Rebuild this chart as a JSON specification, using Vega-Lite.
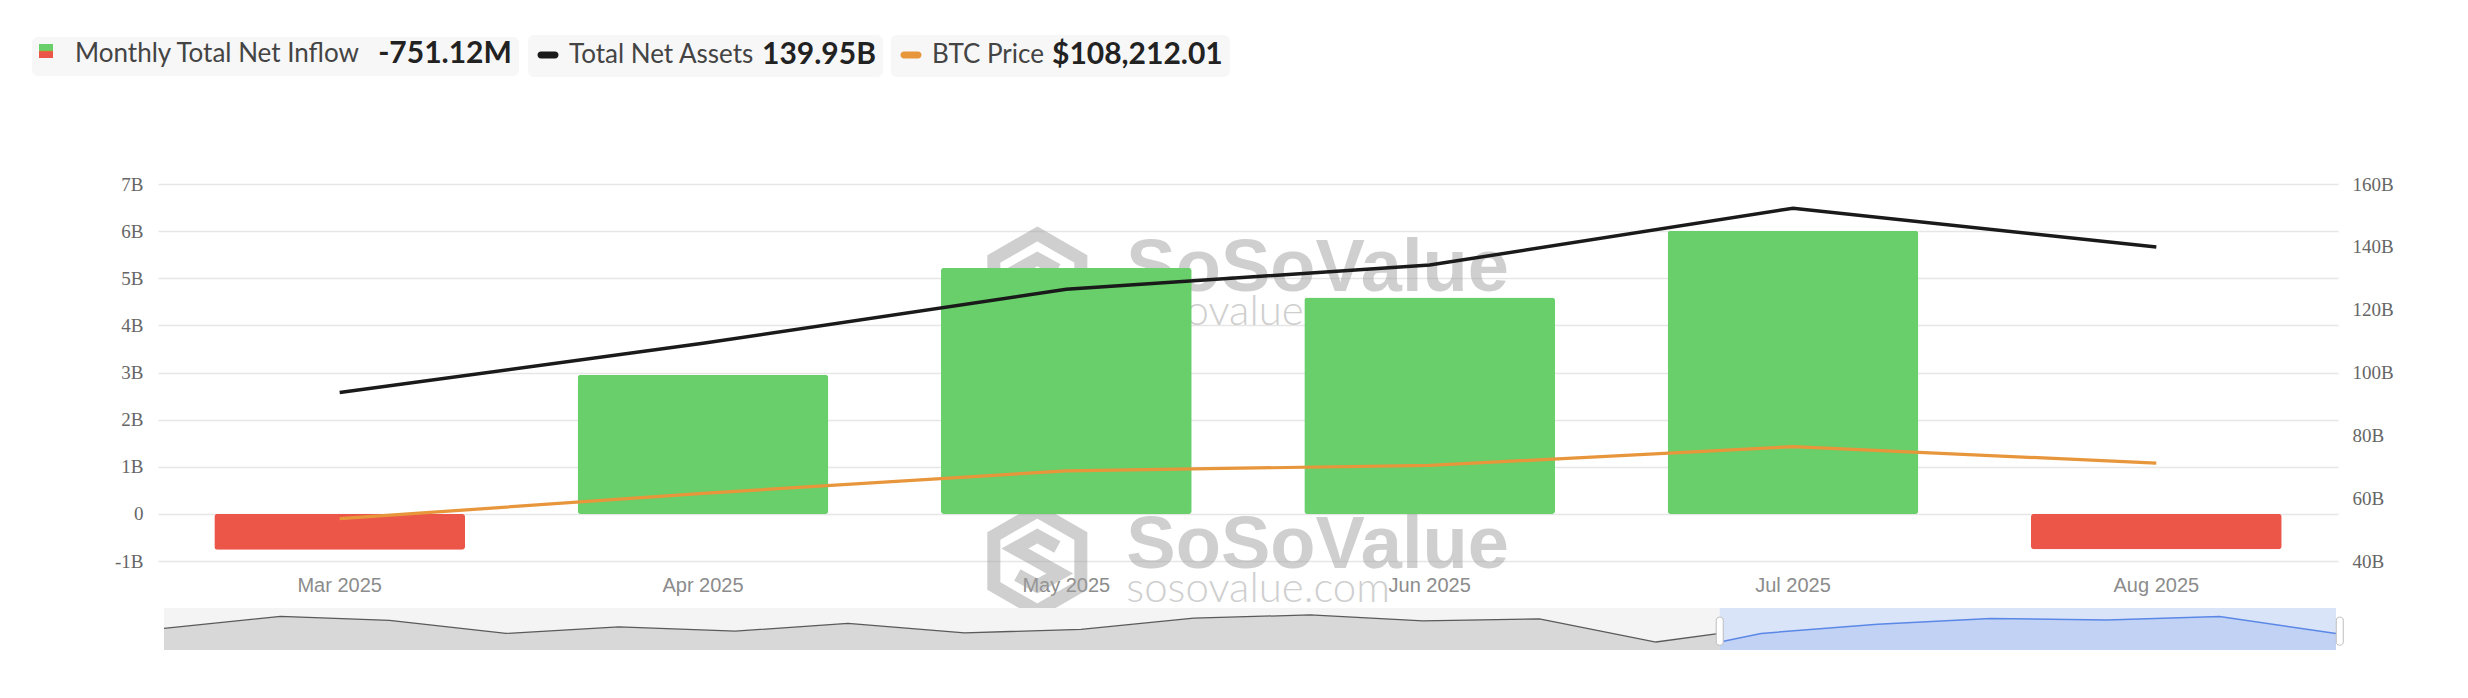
{
  "$schema": "https://vega.github.io/schema/vega-lite/v6.json",
  "width": 2180,
  "height": 377,
  "autosize": {"type": "none"},
  "padding": {"left": 158, "top": 184, "right": 130, "bottom": 137},
  "background": "white",
  "config": {"view": {"stroke": null}, "font": "Lato"},
  "datasets": {
    "main": [
      {"month": "Mar 2025", "inflow": -0.76, "assets": 93.6, "btc": 82548},
      {"month": "Apr 2025", "inflow": 2.95, "assets": 109.3, "btc": 94207},
      {"month": "May 2025", "inflow": 5.22, "assets": 126.5, "btc": 104638},
      {"month": "Jun 2025", "inflow": 4.59, "assets": 134.2, "btc": 107135},
      {"month": "Jul 2025", "inflow": 6.01, "assets": 152.3, "btc": 115758},
      {"month": "Aug 2025", "inflow": -0.75112, "assets": 139.95, "btc": 108212.01}
    ],
    "nav": [
      {"date": "2024-01-01", "v": 1.24},
      {"date": "2024-02-01", "v": 6.1},
      {"date": "2024-03-01", "v": 4.5},
      {"date": "2024-04-01", "v": -0.76},
      {"date": "2024-05-01", "v": 1.87},
      {"date": "2024-06-01", "v": 0.16},
      {"date": "2024-07-01", "v": 3.25},
      {"date": "2024-08-01", "v": -0.5},
      {"date": "2024-09-01", "v": 0.84},
      {"date": "2024-10-01", "v": 5.35},
      {"date": "2024-11-01", "v": 6.68},
      {"date": "2024-12-01", "v": 4.29},
      {"date": "2025-01-01", "v": 5.09},
      {"date": "2025-02-01", "v": -4.2},
      {"date": "2025-03-01", "v": -0.76},
      {"date": "2025-04-01", "v": 2.95},
      {"date": "2025-05-01", "v": 5.22},
      {"date": "2025-06-01", "v": 4.59},
      {"date": "2025-07-01", "v": 6.01},
      {"date": "2025-08-01", "v": -0.75}
    ]
  },
  "layer": [
    {
      "data": {"name": "main"},
      "encoding": {
        "x": {
          "field": "month", "type": "ordinal", "sort": null,
          "scale": {"domain": ["Mar 2025", "Apr 2025", "May 2025", "Jun 2025", "Jul 2025", "Aug 2025"], "paddingInner": 0.31, "paddingOuter": 0.155},
          "axis": {"title": null, "labelAngle": 0, "ticks": false, "domain": false, "grid": false,
                   "labelFont": "Liberation Sans", "labelFontSize": 20, "labelColor": "#8c8c8c", "labelPadding": 14}
        }
      },
      "layer": [
        {
          "layer": [
            {
              "data": {"values": [{}]},
              "mark": {"type": "text", "text": "SoSoValue", "font": "Liberation Sans", "fontWeight": "bold", "fontSize": 74, "color": "#a0a0a0", "opacity": 0.5, "align": "left", "baseline": "alphabetic", "dx": 60},
              "encoding": {"x": {"datum": "May 2025", "type": "ordinal"}, "y": {"datum": 4.73, "type": "quantitative"}}
            },
            {
              "data": {"values": [{}]},
              "mark": {"type": "text", "text": "sosovalue.com", "font": "Lato", "fontWeight": 300, "fontSize": 42, "color": "#a0a0a0", "opacity": 0.5, "align": "left", "baseline": "alphabetic", "dx": 60},
              "encoding": {"x": {"datum": "May 2025", "type": "ordinal"}, "y": {"datum": 4.0, "type": "quantitative"}}
            },
            {
              "data": {"values": [{}]},
              "mark": {"type": "point", "shape": "M0,-1L0.87,-0.5L0.87,0.5L0,1L-0.87,0.5L-0.87,-0.5Z M0.4,-0.28L0,-0.5L-0.45,-0.25L0.45,0.25L0,0.5L-0.4,0.28", "size": 10000, "filled": false, "stroke": "#a0a0a0", "strokeWidth": 13, "opacity": 0.5, "xOffset": -29},
              "encoding": {"x": {"datum": "May 2025", "type": "ordinal"}, "y": {"datum": 4.88, "type": "quantitative"}}
            },
            {
              "data": {"values": [{}]},
              "mark": {"type": "text", "text": "SoSoValue", "font": "Liberation Sans", "fontWeight": "bold", "fontSize": 74, "color": "#a0a0a0", "opacity": 0.5, "align": "left", "baseline": "alphabetic", "dx": 60},
              "encoding": {"x": {"datum": "May 2025", "type": "ordinal"}, "y": {"datum": -1.15, "type": "quantitative"}}
            },
            {
              "data": {"values": [{}]},
              "mark": {"type": "text", "text": "sosovalue.com", "font": "Lato", "fontWeight": 300, "fontSize": 42, "color": "#a0a0a0", "opacity": 0.5, "align": "left", "baseline": "alphabetic", "dx": 60},
              "encoding": {"x": {"datum": "May 2025", "type": "ordinal"}, "y": {"datum": -1.88, "type": "quantitative"}}
            },
            {
              "data": {"values": [{}]},
              "mark": {"type": "point", "shape": "M0,-1L0.87,-0.5L0.87,0.5L0,1L-0.87,0.5L-0.87,-0.5Z M0.4,-0.28L0,-0.5L-0.45,-0.25L0.45,0.25L0,0.5L-0.4,0.28", "size": 10000, "filled": false, "stroke": "#a0a0a0", "strokeWidth": 13, "opacity": 0.5, "xOffset": -29},
              "encoding": {"x": {"datum": "May 2025", "type": "ordinal"}, "y": {"datum": -1.0, "type": "quantitative"}}
            },
            {
              "mark": {"type": "bar", "cornerRadius": 3},
              "encoding": {
                "y": {"field": "inflow", "type": "quantitative",
                      "scale": {"domain": [-1, 7], "nice": false},
                      "axis": {"title": null, "values": [-1, 0, 1, 2, 3, 4, 5, 6, 7],
                               "labelExpr": "datum.value === 0 ? '0' : datum.value + 'B'",
                               "grid": true, "gridColor": "#e6e6e6", "gridWidth": 1.5,
                               "ticks": false, "domain": false,
                               "labelFont": "Liberation Serif", "labelFontSize": 19, "labelColor": "#666666", "labelPadding": 15}},
                "fill": {
                  "field": "inflow", "type": "quantitative",
                  "scale": {"domain": [-1, -0.001, 0.001, 1], "range": ["#eb5648", "#eb5648", "#68cf6a", "#68cf6a"], "clamp": true},
                  "legend": {
                    "orient": "none", "legendX": -126, "legendY": -147,
                    "type": "gradient", "direction": "vertical",
                    "gradientLength": 14, "gradientThickness": 14, "gradientStrokeWidth": 0,
                    "values": [0], "labelExpr": "'Monthly Total Net Inflow'", "labelOffset": 22, "labelLimit": 600,
                    "labelFont": "Lato", "labelFontSize": 26, "labelColor": "#444444",
                    "title": "-751.12M", "titleOrient": "right", "titlePadding": 85, "titleLimit": 600,
                    "titleFont": "Lato", "titleFontSize": 30, "titleFontWeight": "bold", "titleColor": "#222222",
                    "titleAnchor": "middle", "titleBaseline": "middle",
                    "fillColor": "#f7f7f7", "cornerRadius": 6, "padding": 7,
                    "encode": {"title": {"update": {"angle": {"value": 0}, "dy": {"value": 5.5}}},
                               "labels": {"update": {"dy": {"value": 3}}}}
                  }
                }
              }
            }
          ]
        },
        {
          "mark": {"type": "line", "strokeWidth": 3.5},
          "encoding": {
            "y": {"field": "assets", "type": "quantitative",
                  "scale": {"domain": [40, 160], "nice": false, "zero": false},
                  "axis": {"orient": "right", "title": null, "values": [40, 60, 80, 100, 120, 140, 160],
                           "labelExpr": "datum.value + 'B'", "grid": false, "ticks": false, "domain": false,
                           "labelFont": "Liberation Serif", "labelFontSize": 19, "labelColor": "#666666", "labelPadding": 14}},
            "stroke": {
              "datum": "Total Net Assets",
              "scale": {"range": ["#1a1a1a"]},
              "legend": {
                "orient": "none", "legendX": 370, "legendY": -149,
                "symbolType": "M-0.67,-0.33L0.67,-0.33A0.33,0.33,0,0,1,0.67,0.33L-0.67,0.33A0.33,0.33,0,0,1,-0.67,-0.33Z",
                "symbolSize": 441, "symbolStrokeWidth": 0, "symbolFillColor": "#1a1a1a", "labelOffset": 8, "labelLimit": 600,
                "labelFont": "Lato", "labelFontSize": 26, "labelColor": "#444444",
                "title": "139.95B", "titleOrient": "right", "titlePadding": 8, "titleLimit": 600,
                "titleFont": "Lato", "titleFontSize": 30, "titleFontWeight": "bold", "titleColor": "#222222",
                "titleAnchor": "middle", "titleBaseline": "middle",
                "fillColor": "#f7f7f7", "cornerRadius": 6, "padding": 7,
                "encode": {"title": {"update": {"angle": {"value": 0}}},
                           "symbols": {"update": {"fill": {"value": "#1a1a1a"}, "strokeWidth": {"value": 0}}}}
              }
            }
          }
        },
        {
          "mark": {"type": "line", "strokeWidth": 3.2},
          "encoding": {
            "y": {"field": "btc", "type": "quantitative",
                  "scale": {"domain": [63000, 237000], "nice": false, "zero": false},
                  "axis": null},
            "stroke": {
              "datum": "BTC Price",
              "scale": {"range": ["#e8963c"]},
              "legend": {
                "orient": "none", "legendX": 733, "legendY": -149,
                "symbolType": "M-0.67,-0.33L0.67,-0.33A0.33,0.33,0,0,1,0.67,0.33L-0.67,0.33A0.33,0.33,0,0,1,-0.67,-0.33Z",
                "symbolSize": 441, "symbolStrokeWidth": 0, "symbolFillColor": "#e8963c", "labelOffset": 8, "labelLimit": 600,
                "labelFont": "Lato", "labelFontSize": 26, "labelColor": "#444444",
                "title": "$108,212.01", "titleOrient": "right", "titlePadding": 8, "titleLimit": 600,
                "titleFont": "Lato", "titleFontSize": 30, "titleFontWeight": "bold", "titleColor": "#222222",
                "titleAnchor": "middle", "titleBaseline": "middle",
                "fillColor": "#f7f7f7", "cornerRadius": 6, "padding": 7,
                "encode": {"title": {"update": {"angle": {"value": 0}}},
                           "symbols": {"update": {"fill": {"value": "#e8963c"}, "strokeWidth": {"value": 0}}}}
              }
            }
          }
        }
      ],
      "resolve": {"scale": {"y": "independent", "stroke": "independent"}}
    },
    {
      "data": {"name": "nav"},
      "layer": [
        {
          "data": {"values": [{}]},
          "mark": {"type": "rect", "color": "#f4f4f4"},
          "encoding": {
            "x": {"datum": {"year": 2024, "month": 1, "date": 1, "utc": true}, "type": "temporal",
                  "scale": {"domain": [{"year": 2024, "month": 1, "date": 1, "utc": true}, {"year": 2025, "month": 8, "date": 1, "utc": true}], "range": [6, 2178]}, "axis": null},
            "x2": {"datum": {"year": 2025, "month": 8, "date": 1, "utc": true}},
            "y": {"datum": 9.44, "type": "quantitative", "scale": {"domain": [-7.4, 9.44], "range": [466, 424], "nice": false, "zero": false}, "axis": null},
            "y2": {"datum": -7.4}
          }
        },
        {
          "transform": [{"filter": "time(toDate(datum.date)) <= utc(2025, 2, 1)"}],
          "mark": {"type": "area", "color": "#cccccc", "line": {"color": "#5a5a5a", "strokeWidth": 1.3}},
          "encoding": {
            "x": {"field": "date", "type": "temporal",
                  "scale": {"domain": [{"year": 2024, "month": 1, "date": 1, "utc": true}, {"year": 2025, "month": 2, "date": 18, "utc": true}], "range": [6, 1561.8], "clamp": true}, "axis": null},
            "y": {"field": "v", "type": "quantitative", "scale": {"domain": [-7.4, 9.44], "range": [466, 424], "nice": false, "zero": false}, "axis": null},
            "y2": {"datum": -7.4}
          }
        },
        {
          "data": {"values": [{}]},
          "mark": {"type": "rect", "color": "#dae4f8"},
          "encoding": {
            "x": {"datum": {"year": 2025, "month": 2, "date": 18, "utc": true}, "type": "temporal",
                  "scale": {"domain": [{"year": 2024, "month": 1, "date": 1, "utc": true}, {"year": 2025, "month": 8, "date": 1, "utc": true}], "range": [6, 2178]}, "axis": null},
            "x2": {"datum": {"year": 2025, "month": 8, "date": 1, "utc": true}},
            "y": {"datum": 9.44, "type": "quantitative", "scale": {"domain": [-7.4, 9.44], "range": [466, 424], "nice": false, "zero": false}, "axis": null},
            "y2": {"datum": -7.4}
          }
        },
        {
          "transform": [{"filter": "time(toDate(datum.date)) >= utc(2025, 1, 1)"}],
          "mark": {"type": "area", "color": "#b8caf3", "line": {"color": "#5b88e6", "strokeWidth": 1.5}},
          "encoding": {
            "x": {"field": "date", "type": "temporal",
                  "scale": {"domain": [{"year": 2025, "month": 2, "date": 18, "utc": true}, {"year": 2025, "month": 8, "date": 1, "utc": true}], "range": [1561.8, 2178], "clamp": true}, "axis": null},
            "y": {"field": "v", "type": "quantitative", "scale": {"domain": [-7.4, 9.44], "range": [466, 424], "nice": false, "zero": false}, "axis": null},
            "y2": {"datum": -7.4}
          }
        },
        {
          "data": {"values": [{}]},
          "mark": {"type": "tick", "orient": "vertical", "thickness": 7, "size": 28, "cornerRadius": 3, "color": "#ffffff", "opacity": 1, "stroke": "#bdbdbd", "strokeWidth": 1},
          "encoding": {
            "x": {"datum": {"year": 2025, "month": 2, "date": 18, "utc": true}, "type": "temporal",
                  "scale": {"domain": [{"year": 2024, "month": 1, "date": 1, "utc": true}, {"year": 2025, "month": 8, "date": 1, "utc": true}], "range": [6, 2178]}, "axis": null},
            "y": {"datum": 0.16, "type": "quantitative", "scale": {"domain": [-7.4, 9.44], "range": [466, 424], "nice": false, "zero": false}, "axis": null}
          }
        },
        {
          "data": {"values": [{}]},
          "mark": {"type": "tick", "orient": "vertical", "thickness": 7, "size": 28, "cornerRadius": 3, "color": "#ffffff", "opacity": 1, "stroke": "#bdbdbd", "strokeWidth": 1},
          "encoding": {
            "x": {"datum": {"year": 2025, "month": 8, "date": 2, "utc": true}, "type": "temporal",
                  "scale": {"domain": [{"year": 2024, "month": 1, "date": 1, "utc": true}, {"year": 2025, "month": 8, "date": 1, "utc": true}], "range": [6, 2178]}, "axis": null},
            "y": {"datum": 0.16, "type": "quantitative", "scale": {"domain": [-7.4, 9.44], "range": [466, 424], "nice": false, "zero": false}, "axis": null}
          }
        }
      ],
      "resolve": {"scale": {"x": "independent"}}
    }
  ],
  "resolve": {"scale": {"x": "independent", "y": "independent"}}
}
